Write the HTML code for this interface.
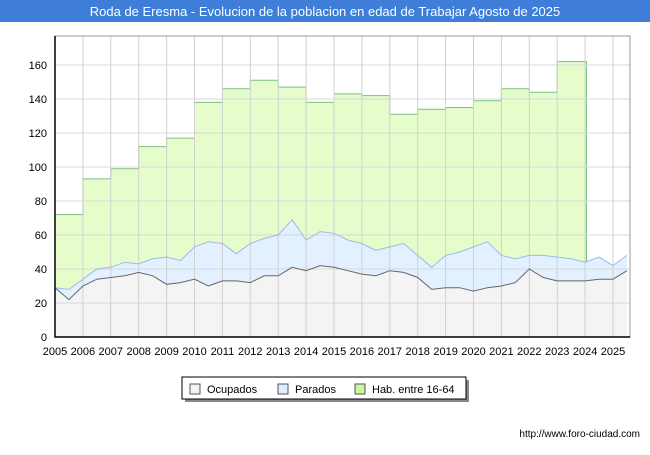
<!DOCTYPE html>
<html><head><meta charset="utf-8"><style>
body{margin:0;background:#fff;font-family:"Liberation Sans",sans-serif}
</style></head><body>
<svg id="c" width="650" height="450" xmlns="http://www.w3.org/2000/svg">
<rect x="0" y="0" width="650" height="22" fill="#3e7dd8"/>
<text x="325" y="16" text-anchor="middle" fill="#fff" font-size="13" font-family="Liberation Sans, sans-serif">Roda de Eresma - Evolucion de la poblacion en edad de Trabajar Agosto de 2025</text>
<g id="plot"></g>
<g>
<rect x="185" y="380" width="284" height="22" fill="#888"/>
<rect x="182" y="377" width="284" height="22" fill="#fff" stroke="#000"/>
<rect x="190" y="384" width="10" height="10" fill="#f4f4f4" stroke="#555"/>
<text x="207" y="393" font-size="11">Ocupados</text>
<rect x="278" y="384" width="10" height="10" fill="#ddeeff" stroke="#555"/>
<text x="295" y="393" font-size="11">Parados</text>
<rect x="355" y="384" width="10" height="10" fill="#ccf5a0" stroke="#555"/>
<text x="372" y="393" font-size="11">Hab. entre 16-64</text>
</g>
<text x="640" y="437" text-anchor="end" font-size="10">http://www.foro-ciudad.com</text>
</svg>
<script>
const habYears=[2005,2006,2007,2008,2009,2010,2011,2012,2013,2014,2015,2016,2017,2018,2019,2020,2021,2022,2023];
const habValues=[72,93,99,112,117,138,146,151,147,138,143,142,131,134,135,139,146,144,162];
const times=[2005.0,2005.5,2006.0,2006.5,2007.0,2007.5,2008.0,2008.5,2009.0,2009.5,2010.0,2010.5,2011.0,2011.5,2012.0,2012.5,2013.0,2013.5,2014.0,2014.5,2015.0,2015.5,2016.0,2016.5,2017.0,2017.5,2018.0,2018.5,2019.0,2019.5,2020.0,2020.5,2021.0,2021.5,2022.0,2022.5,2023.0,2023.5,2024.0,2024.5,2025.0,2025.5];
const ocupados=[29,22,30,34,35,36,38,36,31,32,34,30,33,33,32,36,36,41,39,42,41,39,37,36,39,38,35,28,29,29,27,29,30,32,40,35,33,33,33,34,34,39];
const totalActivos=[29,28,34,40,41,44,43,46,47,45,53,56,55,49,55,58,60,69,57,62,61,57,55,51,53,55,48,41,48,50,53,56,48,46,48,48,47,46,44,47,42,48];
const yTicks=[0,20,40,60,80,100,120,140,160];
const xTicks=[2005,2006,2007,2008,2009,2010,2011,2012,2013,2014,2015,2016,2017,2018,2019,2020,2021,2022,2023,2024,2025];

const NS="http://www.w3.org/2000/svg";
const L=55,R=630,T=36,B=337;
const X=t=>L+(t-2005)*27.9;
const Y=v=>B-v*1.7;
const g=document.getElementById('plot');
function mk(tag,a){const e=document.createElementNS(NS,tag);for(const k in a)e.setAttribute(k,a[k]);g.appendChild(e);return e;}
let bg=mk('rect',{x:L,y:T,width:R-L,height:B-T,fill:'#fff'});


// hab area
let hp=`M${X(2005)},${Y(0)}`;
habYears.forEach((yr,i)=>{hp+=` L${X(yr)},${Y(habValues[i])} L${X(yr+1)},${Y(habValues[i])}`;});
const habEnd=habYears[habYears.length-1]+1.05;
hp+=` L${X(habEnd)},${Y(habValues[habValues.length-1])} L${X(habEnd)},${Y(0)} Z`;
let ha=mk('path',{d:hp,fill:'#e6fccb',stroke:'#7fbf7f','stroke-width':1});


// parados area
const tot=times.map((t,i)=>`${X(t)},${Y(totalActivos[i])}`);
const oc=times.map((t,i)=>`${X(t)},${Y(ocupados[i])}`);
let pa=mk('path',{d:'M'+tot.join(' L')+' L'+oc.slice().reverse().join(' L')+' Z',fill:'#e2f0ff'});


let oa=mk('path',{d:`M${X(times[0])},${Y(0)} L`+oc.join(' L')+` L${X(times[times.length-1])},${Y(0)} Z`,fill:'#f4f4f4'});


// grid
yTicks.forEach(v=>{
  const l=mk('line',{x1:L,x2:R,y1:Y(v),y2:Y(v),stroke:'#d8d8d8'});
  
  
  const t=mk('text',{x:47,y:Y(v)+4,'text-anchor':'end','font-size':11});t.textContent=v;
  
  
});
xTicks.forEach(yr=>{
  const l=mk('line',{x1:X(yr),x2:X(yr),y1:T,y2:B,stroke:'#d0d0d0'});
  
  
  const t=mk('text',{x:X(yr),y:355,'text-anchor':'middle','font-size':11});t.textContent=yr;
  
  
});
let tl=mk('polyline',{points:tot.join(' '),fill:'none',stroke:'#9bbbe8','stroke-width':1});


let ol=mk('polyline',{points:oc.join(' '),fill:'none',stroke:'#666','stroke-width':1});


let fr=mk('rect',{x:L,y:T,width:R-L,height:B-T,fill:'none',stroke:'#999'});


let ax=mk('path',{d:`M${L},${T} L${L},${B} L${R},${B}`,fill:'none',stroke:'#000','stroke-width':1.5});


</script>
</body></html>
